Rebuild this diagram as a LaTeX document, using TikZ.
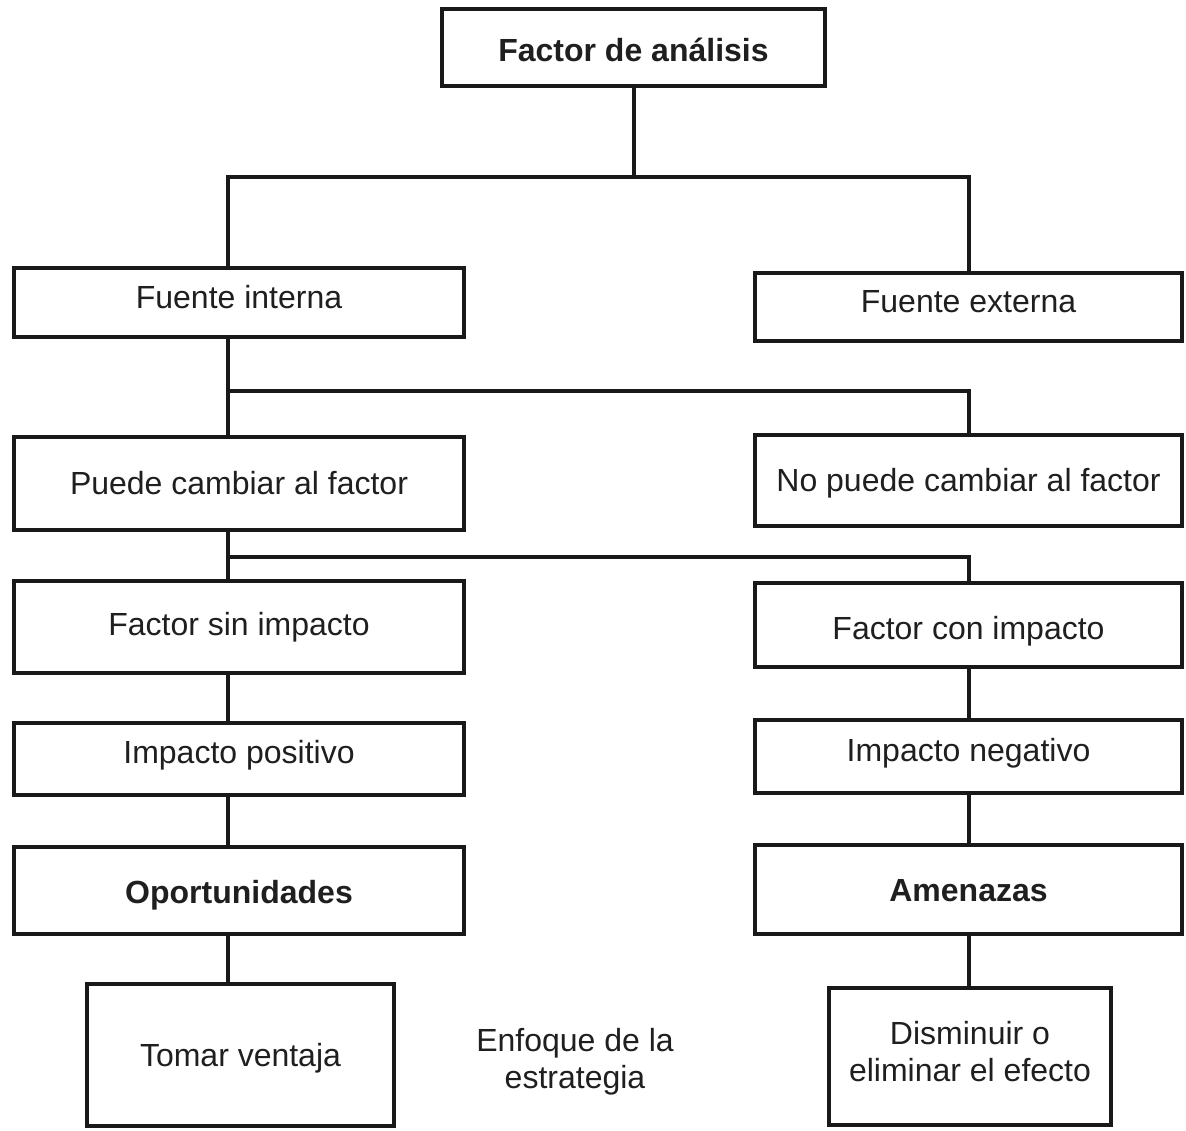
\documentclass[tikz,border=0pt]{standalone}
\usepackage{fontspec}
\setmainfont{Liberation Sans}
\newcommand{\rb}[2]{\raisebox{#1pt}[\height][\depth]{#2}}
\begin{document}
\begin{tikzpicture}[x=1pt,y=-1pt,
  box/.style={draw=black!90, line width=4pt, rectangle, inner sep=0pt, outer sep=0pt,
    font=\fontsize{32}{36.5}\selectfont, align=center, text=black!88},
  conn/.style={draw=black!90, line width=4pt, line cap=rect},
  lbl/.style={font=\fontsize{32}{37}\selectfont, align=center, text=black!88, inner sep=0pt}]
\useasboundingbox[fill=white] (0,0) rectangle (1186,1131);

\node[box, minimum width=383pt, minimum height=77pt] (top) at (633.5,47.5) {\rb{-2}{\textbf{Factor de análisis}}};
\node[box, minimum width=450pt, minimum height=69pt] (fi) at (239,302.5) {\rb{5}{Fuente interna}};
\node[box, minimum width=427pt, minimum height=68pt] (fe) at (968.5,307) {\rb{5}{Fuente externa}};
\node[box, minimum width=450pt, minimum height=93pt] (pc) at (239,483.5) {Puede cambiar al factor};
\node[box, minimum width=427pt, minimum height=91pt] (npc) at (968.5,480.5) {\rb{-3}{No puede cambiar al factor}};
\node[box, minimum width=450pt, minimum height=92pt] (fsi) at (239,627) {Factor sin impacto};
\node[box, minimum width=427pt, minimum height=84pt] (fci) at (968.5,625) {\rb{-6}{Factor con impacto}};
\node[box, minimum width=450pt, minimum height=72pt] (ip) at (239,759) {\rb{4}{Impacto positivo}};
\node[box, minimum width=427pt, minimum height=73pt] (in) at (968.5,756.5) {\rb{3}{Impacto negativo}};
\node[box, minimum width=450pt, minimum height=87pt] (op) at (239,890.5) {\rb{-5}{\textbf{Oportunidades}}};
\node[box, minimum width=427pt, minimum height=89pt] (am) at (968.5,889.5) {\rb{-1}{\textbf{Amenazas}}};
\node[box, minimum width=307pt, minimum height=142pt] (tv) at (240.5,1055) {\rb{-3}{Tomar ventaja}};
\node[box, minimum width=282pt, minimum height=137pt,
  label={[lbl, yshift=5pt]center:Disminuir o\\eliminar el efecto}] (de) at (970,1056.5) {};
\node[lbl] (enf) at (575,1062) {Enfoque de la\\estrategia};

% bus coordinates
\coordinate (b1l) at (228,177);
\coordinate (b1r) at (969,177);
\coordinate (b2l) at (228,391);
\coordinate (b2r) at (969,391);
\coordinate (b3l) at (228,557);
\coordinate (b3r) at (969,557);
\coordinate (xl) at (228,0);
\coordinate (xr) at (969,0);

\draw[conn] (top.south) -- (top.south |- b1l);
\draw[conn] (fi.north -| xl) -- (b1l) -- (b1r) -- (fe.north -| xr);
\draw[conn] (fi.south -| xl) -- (pc.north -| xl);
\draw[conn] (b2l) -- (b2r) -- (npc.north -| xr);
\draw[conn] (pc.south -| xl) -- (fsi.north -| xl);
\draw[conn] (b3l) -- (b3r) -- (fci.north -| xr);
\draw[conn] (fsi.south -| xl) -- (ip.north -| xl);
\draw[conn] (ip.south -| xl) -- (op.north -| xl);
\draw[conn] (op.south -| xl) -- (tv.north -| xl);
\draw[conn] (fci.south -| xr) -- (in.north -| xr);
\draw[conn] (in.south -| xr) -- (am.north -| xr);
\draw[conn] (am.south -| xr) -- (de.north -| xr);
\end{tikzpicture}
\end{document}
